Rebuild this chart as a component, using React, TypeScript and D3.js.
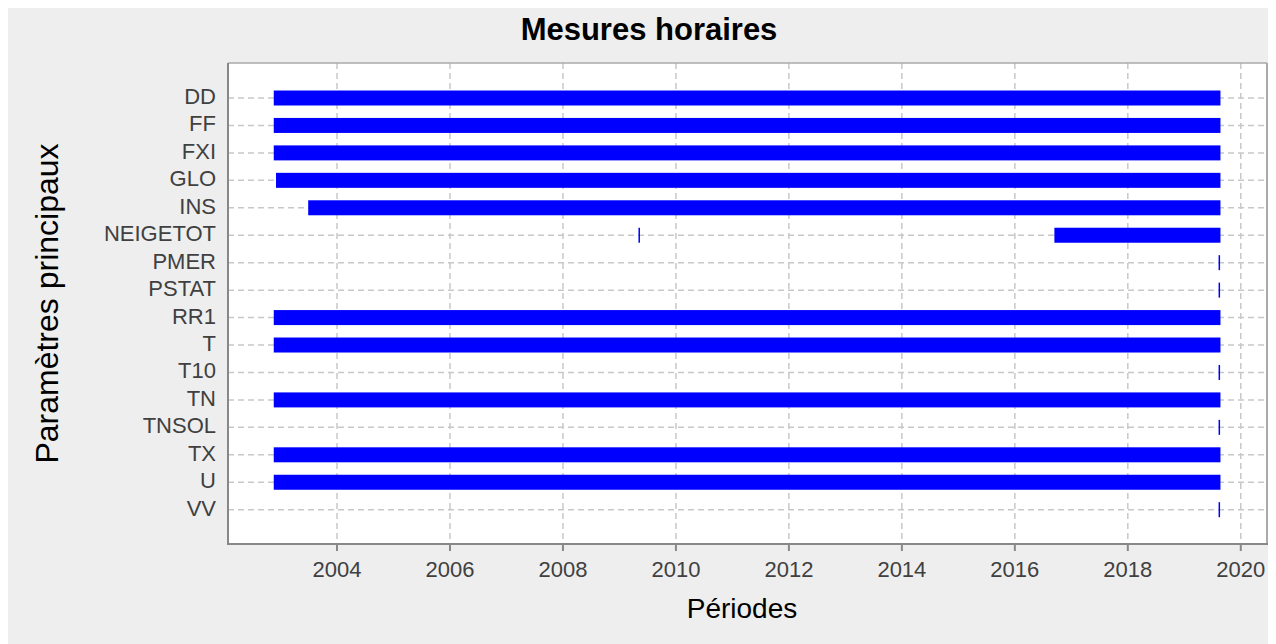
import React from 'react'
import * as d3 from 'd3'

const width = 1268
const height = 636
const plot = { left: 220, top: 55, right: 1259, bottom: 536 }

// parametres, dans l'ordre de l'axe vertical
const params = ['DD', 'FF', 'FXI', 'GLO', 'INS', 'NEIGETOT', 'PMER', 'PSTAT', 'RR1', 'T', 'T10', 'TN', 'TNSOL', 'TX', 'U', 'VV']

// periodes de mesure (annees decimales)
const segParam = ['DD', 'FF', 'FXI', 'GLO', 'INS', 'NEIGETOT', 'NEIGETOT', 'PMER', 'PSTAT', 'RR1', 'T', 'T10', 'TN', 'TNSOL', 'TX', 'U', 'VV']
const segStart = [2002.88, 2002.88, 2002.88, 2002.92, 2003.49, 2009.35, 2016.7, 2019.62, 2019.62, 2002.88, 2002.88, 2019.62, 2002.88, 2019.62, 2002.88, 2002.88, 2019.62]
const segEnd = [2019.64, 2019.64, 2019.64, 2019.64, 2019.64, 2009.35, 2019.64, 2019.62, 2019.62, 2019.64, 2019.64, 2019.62, 2019.64, 2019.62, 2019.64, 2019.64, 2019.62]

const yearTicks = [2004, 2006, 2008, 2010, 2012, 2014, 2016, 2018, 2020]

const font = '"Liberation Sans", Arial, Helvetica, sans-serif'

const App = () => {
  const x = d3.scaleLinear().domain([2002.07, 2020.464]).range([plot.left, plot.right])
  const y = d3.scalePoint().domain(params).range([90, 501.7])
  const barH = 15

  return (
    <svg width={width} height={height} style={{ display: 'block' }} fontFamily={font}>
      <rect x={0} y={0} width={width} height={height} fill='#eeeeee' />
      <rect x={plot.left} y={plot.top} width={plot.right - plot.left} height={plot.bottom - plot.top} fill='#ffffff' />

      {/* grille */}
      {yearTicks.map(t => (
        <line key={'gx' + t} x1={x(t)} x2={x(t)} y1={plot.top} y2={plot.bottom}
          stroke='#c8c8c8' strokeWidth={1.5} strokeDasharray='6,4' />
      ))}
      {params.map(p => (
        <line key={'gy' + p} x1={plot.left} x2={plot.right} y1={y(p)} y2={y(p)}
          stroke='#c8c8c8' strokeWidth={1.5} strokeDasharray='6,4' />
      ))}

      {/* periodes */}
      {segParam.map((p, i) => {
        const x0 = x(segStart[i])
        const w = x(segEnd[i]) - x0
        return w < 1
          ? <rect key={i} x={x0 - 0.75} y={y(p)! - barH / 2} width={1.5} height={barH} fill='#0000ff' />
          : <rect key={i} x={x0} y={y(p)! - barH / 2} width={w} height={barH} fill='#0000ff' />
      })}

      {/* cadre */}
      <line x1={plot.left} x2={plot.right} y1={plot.top} y2={plot.top} stroke='#aaaaaa' strokeWidth={1.5} />
      <line x1={plot.right} x2={plot.right} y1={plot.top} y2={plot.bottom} stroke='#aaaaaa' strokeWidth={2} />
      <line x1={plot.left} x2={plot.left} y1={plot.top} y2={plot.bottom + 1} stroke='#888888' strokeWidth={2} />
      <line x1={plot.left - 1} x2={plot.right + 1} y1={plot.bottom} y2={plot.bottom} stroke='#888888' strokeWidth={2} />

      {/* axe x */}
      {yearTicks.map(t => (
        <g key={'tx' + t}>
          <line x1={x(t)} x2={x(t)} y1={plot.bottom} y2={plot.bottom + 7} stroke='#888888' strokeWidth={2} />
          <text x={x(t)} y={569} textAnchor='middle' fontSize={22} fill='#404040'>{d3.format('d')(t)}</text>
        </g>
      ))}

      {/* axe y */}
      {params.map(p => (
        <text key={'ty' + p} x={208} y={y(p)! + 6} textAnchor='end' fontSize={22} fill='#404040'>{p}</text>
      ))}

      <text x={641} y={32} textAnchor='middle' fontSize={31} fontWeight='bold' fill='#000000'>Mesures horaires</text>
      <text x={734} y={610} textAnchor='middle' fontSize={28} fill='#000000'>Périodes</text>
      <text transform={`translate(50, ${(plot.top + plot.bottom) / 2}) rotate(-90)`} textAnchor='middle' fontSize={32} fill='#000000'>Paramètres principaux</text>
    </svg>
  )
}

export default App
